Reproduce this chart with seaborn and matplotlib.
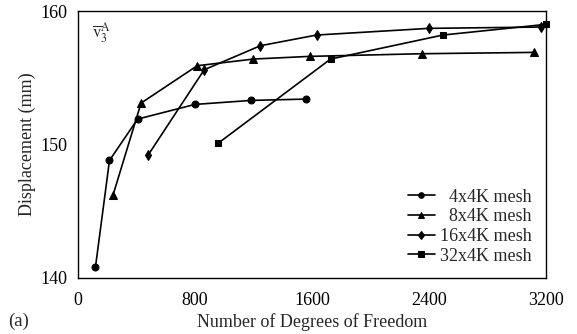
import matplotlib
matplotlib.use("Agg")
import matplotlib.pyplot as plt
import seaborn as sns
import pandas as pd

# Convergence of displacement with mesh refinement
dof_4 = [120, 216, 408, 800, 1184, 1560]
disp_4 = [140.8, 148.8, 151.9, 153.0, 153.3, 153.4]

dof_8 = [240, 432, 816, 1200, 1584, 2352, 3120]
disp_8 = [146.2, 153.1, 155.9, 156.4, 156.6, 156.8, 156.9]

dof_16 = [480, 864, 1248, 1632, 2400, 3168]
disp_16 = [149.2, 155.6, 157.4, 158.2, 158.7, 158.8]

dof_32 = [960, 1728, 2496, 3200]
disp_32 = [150.1, 156.4, 158.2, 159.0]

series_labels = ["  4x4K mesh", "  8x4K mesh", "16x4K mesh", "32x4K mesh"]
x_ticks = [0, 800, 1600, 2400, 3200]
y_ticks = [140, 150, 160]

sns.set_style("white")
plt.rcParams["font.family"] = ["Liberation Serif", "DejaVu Serif"]
plt.rcParams["mathtext.fontset"] = "stix"

fig = plt.figure(figsize=(5.77, 3.34), dpi=100)
ax = fig.add_axes([0.135, 0.168, 0.811, 0.799])

series = [
    (dof_4, disp_4, "o", 5.0),
    (dof_8, disp_8, "^", 5.5),
    (dof_16, disp_16, "d", 5.5),
    (dof_32, disp_32, "s", 4.6),
]
for (xs, ys, mk, ms), lab in zip(series, series_labels):
    df = pd.DataFrame({"dof": xs, "disp": ys})
    sns.lineplot(data=df, x="dof", y="disp", ax=ax, color="black",
                 marker=mk, markersize=ms, markeredgecolor="black",
                 linewidth=1.2, label=lab, clip_on=False)

ax.set_xlim(0, 3200)
ax.set_ylim(140, 160)
ax.set_xticks(x_ticks)
ax.set_yticks(y_ticks)
ax.tick_params(direction="in", length=6, width=1, labelsize=13,
               colors="black")
ax.tick_params(axis="x", pad=10)
ax.tick_params(axis="y", pad=7.5)
for s in ax.spines.values():
    s.set_color("black")
    s.set_linewidth(1.0)

ax.set_xlabel("Number of Degrees of Freedom", fontsize=13, labelpad=3)
ax.set_ylabel("Displacement (mm)", fontsize=13, labelpad=3)

ax.text(0.03, 0.965, r"$\overline{\mathrm{v}}_3^{\mathrm{A}}$",
        transform=ax.transAxes, ha="left", va="top", fontsize=12)
fig.text(0.014, 0.012, "(a)", fontsize=13.5, ha="left", va="bottom")

leg = ax.legend(loc="lower right", frameon=False, fontsize=13,
                handlelength=1.5, handletextpad=0.3, labelspacing=0.15,
                markerscale=0.8, borderaxespad=0.0,
                bbox_to_anchor=(0.986, 0.022))

fig.savefig("out.png", dpi=100)
